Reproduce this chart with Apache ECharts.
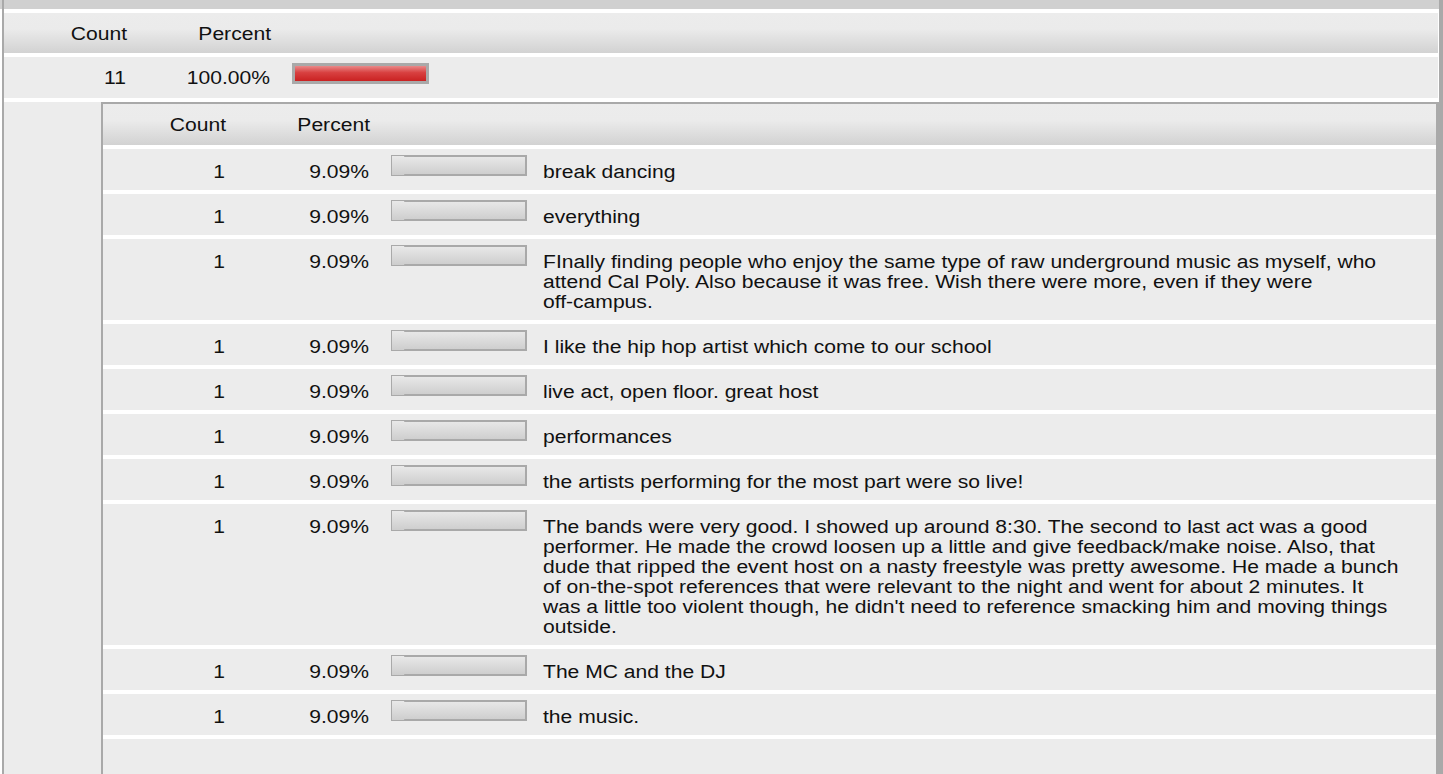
<!DOCTYPE html>
<html>
<head>
<meta charset="utf-8">
<script src="https://cdn.jsdelivr.net/npm/echarts@6/dist/echarts.min.js"></script>
<style>
html,body{margin:0;padding:0;background:#ffffff;}
#chart{width:1443px;height:774px;}
</style>
</head>
<body>
<div id="chart"></div>
<script>
// ---- data ----
const headerLabels = ['Count', 'Percent'];
const totalCounts = [11];
const totalPercents = [100.00];
const responses = [
  'break dancing',
  'everything',
  'FInally finding people who enjoy the same type of raw underground music as myself, who\nattend Cal Poly. Also because it was free. Wish there were more, even if they were\noff-campus.',
  'I like the hip hop artist which come to our school',
  'live act, open floor. great host',
  'performances',
  'the artists performing for the most part were so live!',
  "The bands were very good. I showed up around 8:30. The second to last act was a good\nperformer. He made the crowd loosen up a little and give feedback/make noise. Also, that\ndude that ripped the event host on a nasty freestyle was pretty awesome. He made a bunch\nof on-the-spot references that were relevant to the night and went for about 2 minutes. It\nwas a little too violent though, he didn't need to reference smacking him and moving things\noutside.",
  'The MC and the DJ',
  'the music.'
];
const responseCounts = [1, 1, 1, 1, 1, 1, 1, 1, 1, 1];
const responsePercents = [9.09, 9.09, 9.09, 9.09, 9.09, 9.09, 9.09, 9.09, 9.09, 9.09];

// ---- styling / layout ----
const FONT = "'Liberation Sans', Arial, sans-serif";
const FS = 19;
const SX = 1.11;
const LH = 20;
const TXT = '#111111';
const ROW_BG = '#ececec';
const BORDER = '#a9a9a9';
const ROW_H = 41, SEP = 4, TXT_OFF = 22;

function headGrad() {
  return new echarts.graphic.LinearGradient(0, 0, 0, 1, [
    {offset: 0, color: '#ececec'}, {offset: 0.4, color: '#ebebeb'}, {offset: 1, color: '#d2d2d2'}
  ]);
}
function grayGrad() {
  return new echarts.graphic.LinearGradient(0, 0, 0, 1, [
    {offset: 0, color: '#e9e9e9'}, {offset: 1, color: '#cdcdcd'}
  ]);
}
function redGrad() {
  return new echarts.graphic.LinearGradient(0, 0, 0, 1, [
    {offset: 0, color: '#ec9494'}, {offset: 0.45, color: '#d84040'}, {offset: 1, color: '#c81e1e'}
  ]);
}

const graphics = [];
function rect(x, y, w, h, fill, z) {
  graphics.push({type: 'rect', shape: {x: x, y: y, width: w, height: h}, style: {fill: fill}, z: z || 0, silent: true});
}
function text(str, x, y, align) {
  graphics.push({type: 'text', x: x, y: y, scaleX: SX, scaleY: 1, z: 10, silent: true,
    style: {text: str, fill: TXT, fontSize: FS, fontFamily: FONT,
      align: align, verticalAlign: 'middle', lineHeight: LH}});
}
function textBlock(str, x, top) {
  graphics.push({type: 'text', x: x, y: top + TXT_OFF - LH / 2, scaleX: SX, scaleY: 1, z: 10, silent: true,
    style: {text: str, fill: TXT, fontSize: FS, fontFamily: FONT,
      align: 'left', verticalAlign: 'top', lineHeight: LH}});
}

// outer frame
rect(0, 0, 1443, 9, '#d0d0d0', 0);
rect(4, 13, 1434, 40, headGrad(), 1);
rect(4, 57, 1434, 41, ROW_BG, 1);
rect(4, 102, 1434, 672, ROW_BG, 1);
rect(2, 0, 2, 774, BORDER, 3);
rect(1439, 0, 4, 774, BORDER, 3);
// inner box
rect(101, 102, 1338, 672, BORDER, 2);
rect(103, 104, 1333, 670, '#ffffff', 2);
rect(103, 104, 1333, 41, headGrad(), 3);

// outer header + total row texts
text(headerLabels[0], 127, 33, 'right');
text(headerLabels[1], 271, 33, 'right');
text(String(totalCounts[0]), 126, 77.5, 'right');
text(totalPercents[0].toFixed(2) + '%', 270, 77.5, 'right');
// inner header
text(headerLabels[0], 226, 124.5, 'right');
text(headerLabels[1], 370, 124.5, 'right');

const grids = [], xAxes = [], yAxes = [], series = [];
function addBar(idx, left, width, top, value, label, isTotal) {
  grids.push({left: left, top: top, width: width, height: 19, containLabel: false});
  xAxes.push({gridIndex: idx, type: 'value', min: 0, max: 100, show: false});
  yAxes.push({gridIndex: idx, type: 'category', data: [label], show: false});
  series.push({
    type: 'bar', xAxisIndex: idx, yAxisIndex: idx, data: [value], barWidth: 19,
    silent: true, animation: false, z: 5,
    showBackground: true,
    backgroundStyle: {color: grayGrad(), borderColor: BORDER, borderWidth: 2},
    itemStyle: isTotal ? {color: redGrad(), borderColor: BORDER, borderWidth: 2} : {color: grayGrad()}
  });
}

addBar(0, 293, 135, 57 + 7, totalPercents[0], 'total', true);

let y = 149;
responses.forEach(function (r, i) {
  const lines = r.split('\n').length;
  const h = ROW_H + (lines - 1) * LH;
  rect(103, y, 1333, h, ROW_BG, 3);
  text(String(responseCounts[i]), 225, y + TXT_OFF, 'right');
  text(responsePercents[i].toFixed(2) + '%', 369, y + TXT_OFF, 'right');
  textBlock(r, 543, y);
  addBar(i + 1, 392, 134, y + 7, responsePercents[i], 'r' + i, false);
  y += h + SEP;
});
// next (cut-off) row
rect(103, y, 1333, 774 - y, ROW_BG, 3);

const chart = echarts.init(document.getElementById('chart'), null, {renderer: 'svg', width: 1443, height: 774});
chart.setOption({
  animation: false,
  backgroundColor: '#ffffff',
  graphic: {elements: graphics},
  grid: grids,
  xAxis: xAxes,
  yAxis: yAxes,
  series: series
});
</script>
</body>
</html>
